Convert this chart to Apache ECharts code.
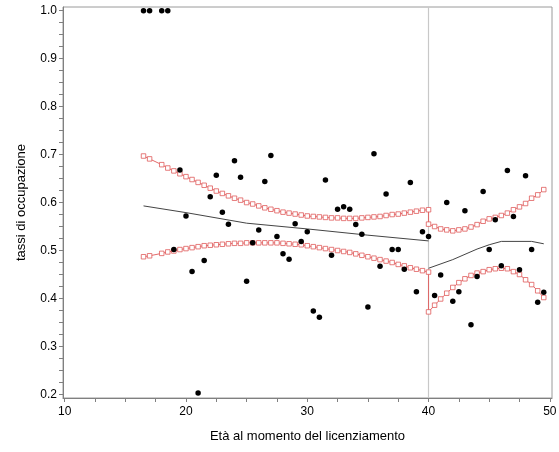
<!DOCTYPE html>
<html>
<head>
<meta charset="utf-8">
<script src="https://cdn.jsdelivr.net/npm/echarts@6/dist/echarts.min.js"></script>
<style>
html,body{margin:0;padding:0;background:#fff;}
#chart{width:559px;height:452px;}
</style>
</head>
<body>
<div id="chart"></div>
<script>
// ---- Data ----
const pointAges = [16.5,17,18,18.5,19,19.5,20,20.5,21,21.5,22,22.5,23,23.5,24,24.5,25,25.5,26,26.5,27,27.5,28,28.5,29,29.5,30,30.5,31,31.5,32,32.5,33,33.5,34,34.5,35,35.5,36,36.5,37,37.5,38,38.5,39,39.5,40,40.5,41,41.5,42,42.5,43,43.5,44,44.5,45,45.5,46,46.5,47,47.5,48,48.5,49,49.5];
const pointRates = [1.0,1.0,1.0,1.0,0.502,0.668,0.572,0.456,0.203,0.479,0.612,0.657,0.580,0.555,0.687,0.653,0.436,0.516,0.543,0.644,0.698,0.529,0.493,0.482,0.556,0.519,0.539,0.374,0.361,0.647,0.490,0.586,0.591,0.586,0.554,0.534,0.382,0.702,0.467,0.618,0.502,0.502,0.461,0.642,0.414,0.539,0.529,0.406,0.449,0.600,0.394,0.414,0.583,0.345,0.446,0.623,0.502,0.564,0.468,0.667,0.571,0.460,0.656,0.502,0.392,0.413];

// confidence band (red squares): ages, with 40 appearing twice (end of left part, start of right part)
const bandAges = [16.5,17,18,18.5,19,19.5,20,20.5,21,21.5,22,22.5,23,23.5,24,24.5,25,25.5,26,26.5,27,27.5,28,28.5,29,29.5,30,30.5,31,31.5,32,32.5,33,33.5,34,34.5,35,35.5,36,36.5,37,37.5,38,38.5,39,39.5,40,
                  40,40.5,41,41.5,42,42.5,43,43.5,44,44.5,45,45.5,46,46.5,47,47.5,48,48.5,49,49.5];
const bandUpper = [0.697,0.691,0.679,0.672,0.666,0.660,0.654,0.648,0.642,0.636,0.630,0.624,0.619,0.614,0.609,0.605,0.600,0.597,0.593,0.589,0.586,0.583,0.580,0.578,0.576,0.574,0.572,0.571,0.570,0.569,0.568,0.568,0.567,0.567,0.567,0.568,0.569,0.570,0.571,0.573,0.575,0.576,0.578,0.580,0.582,0.584,0.585,
                   0.555,0.550,0.545,0.543,0.541,0.543,0.545,0.549,0.554,0.561,0.566,0.569,0.573,0.578,0.585,0.591,0.598,0.609,0.616,0.627];
const bandLower = [0.487,0.489,0.494,0.497,0.499,0.502,0.504,0.506,0.508,0.510,0.511,0.512,0.513,0.514,0.515,0.515,0.516,0.516,0.516,0.516,0.516,0.516,0.515,0.514,0.513,0.512,0.510,0.508,0.506,0.504,0.502,0.500,0.498,0.496,0.493,0.490,0.487,0.484,0.481,0.478,0.475,0.471,0.468,0.464,0.461,0.458,0.455,
                   0.372,0.386,0.399,0.411,0.423,0.433,0.441,0.448,0.453,0.456,0.460,0.462,0.463,0.462,0.456,0.450,0.439,0.429,0.416,0.402];

// fitted line (black), left and right of the cut-off
const fitLeftAges = [16.5,20,25,30,35,40];
const fitLeftRates = [0.593,0.579,0.557,0.545,0.532,0.520];
const fitRightAges = [40,42,44,45,46,48.5,49.5];
const fitRightRates = [0.463,0.481,0.503,0.512,0.519,0.519,0.514];

const cutoffAge = 40;
const xTickLabels = [10,20,30,40,50];
const yTickLabels = [0.2,0.3,0.4,0.5,0.6,0.7,0.8,0.9,1.0];
const xTitle = 'Età al momento del licenziamento';
const yTitle = 'tassi di occupazione';

// ---- build ----
const zip = (a,b) => a.map((v,i)=>[v,b[i]]);
const xMinor = []; for (let i=0;i<xTickLabels.length-1;i++){ for(let k=0;k<4;k++) xMinor.push(xTickLabels[i]+k*(xTickLabels[i+1]-xTickLabels[i])/4); } xMinor.push(xTickLabels[xTickLabels.length-1]);
const yMinor = []; for (let i=0;i<yTickLabels.length-1;i++){ for(let k=0;k<4;k++) yMinor.push(+(yTickLabels[i]+k*(yTickLabels[i+1]-yTickLabels[i])/4).toFixed(4)); } yMinor.push(yTickLabels[yTickLabels.length-1]);

const FONT = 'Liberation Sans, Arial, sans-serif';
const RED = '#e05a5a';
const chart = echarts.init(document.getElementById('chart'), null, {renderer:'canvas'});
chart.setOption({
  animation:false,
  backgroundColor:'#fff',
  grid:{left:63,right:7,top:7,bottom:54,show:true,borderColor:'#9a9a9a',borderWidth:1,backgroundColor:'transparent',containLabel:false,outerBoundsMode:'none'},
  xAxis:{type:'value',min:9.86,max:50.18,
    name:xTitle,nameLocation:'middle',nameGap:32,
    nameTextStyle:{fontFamily:FONT,fontSize:13,color:'#000'},
    axisLine:{show:true,lineStyle:{color:'#808080',width:1}},
    axisTick:{show:true,inside:false,length:4,customValues:xMinor,lineStyle:{color:'#808080'}},
    axisLabel:{customValues:xTickLabels,margin:8,fontFamily:FONT,fontSize:12,color:'#000'},
    splitLine:{show:false}},
  yAxis:{type:'value',min:0.1925,max:1.0077,
    name:yTitle,nameLocation:'middle',nameGap:35,nameRotate:90,
    nameTextStyle:{fontFamily:FONT,fontSize:13,color:'#000'},
    axisLine:{show:true,lineStyle:{color:'#808080',width:1}},
    axisTick:{show:true,inside:false,length:4,customValues:yMinor,lineStyle:{color:'#808080'}},
    axisLabel:{customValues:yTickLabels,margin:6,fontFamily:FONT,fontSize:12,color:'#000',formatter:v=>v.toFixed(1)},
    splitLine:{show:false}},
  series:[
    {type:'line',data:zip(bandAges,bandUpper),symbol:'rect',symbolSize:4.5,showSymbol:true,
     itemStyle:{color:'#fff',borderColor:RED,borderWidth:0.8,opacity:1},lineStyle:{color:RED,width:0.9},z:3,
     markLine:{silent:true,symbol:'none',label:{show:false},lineStyle:{color:'#c8c8c8',type:'solid',width:1.2},data:[{xAxis:cutoffAge}],z:1}},
    {type:'line',data:zip(bandAges,bandLower),symbol:'rect',symbolSize:4.5,showSymbol:true,
     itemStyle:{color:'#fff',borderColor:RED,borderWidth:0.8,opacity:1},lineStyle:{color:RED,width:0.9},z:3},
    {type:'line',data:zip(fitLeftAges,fitLeftRates),symbol:'none',lineStyle:{color:'#444',width:1},z:2},
    {type:'line',data:zip(fitRightAges,fitRightRates),symbol:'none',lineStyle:{color:'#444',width:1},z:2},
    {type:'scatter',data:zip(pointAges,pointRates),symbol:'circle',symbolSize:5.5,itemStyle:{color:'#000',opacity:1},z:5}
  ]
});
</script>
</body>
</html>
